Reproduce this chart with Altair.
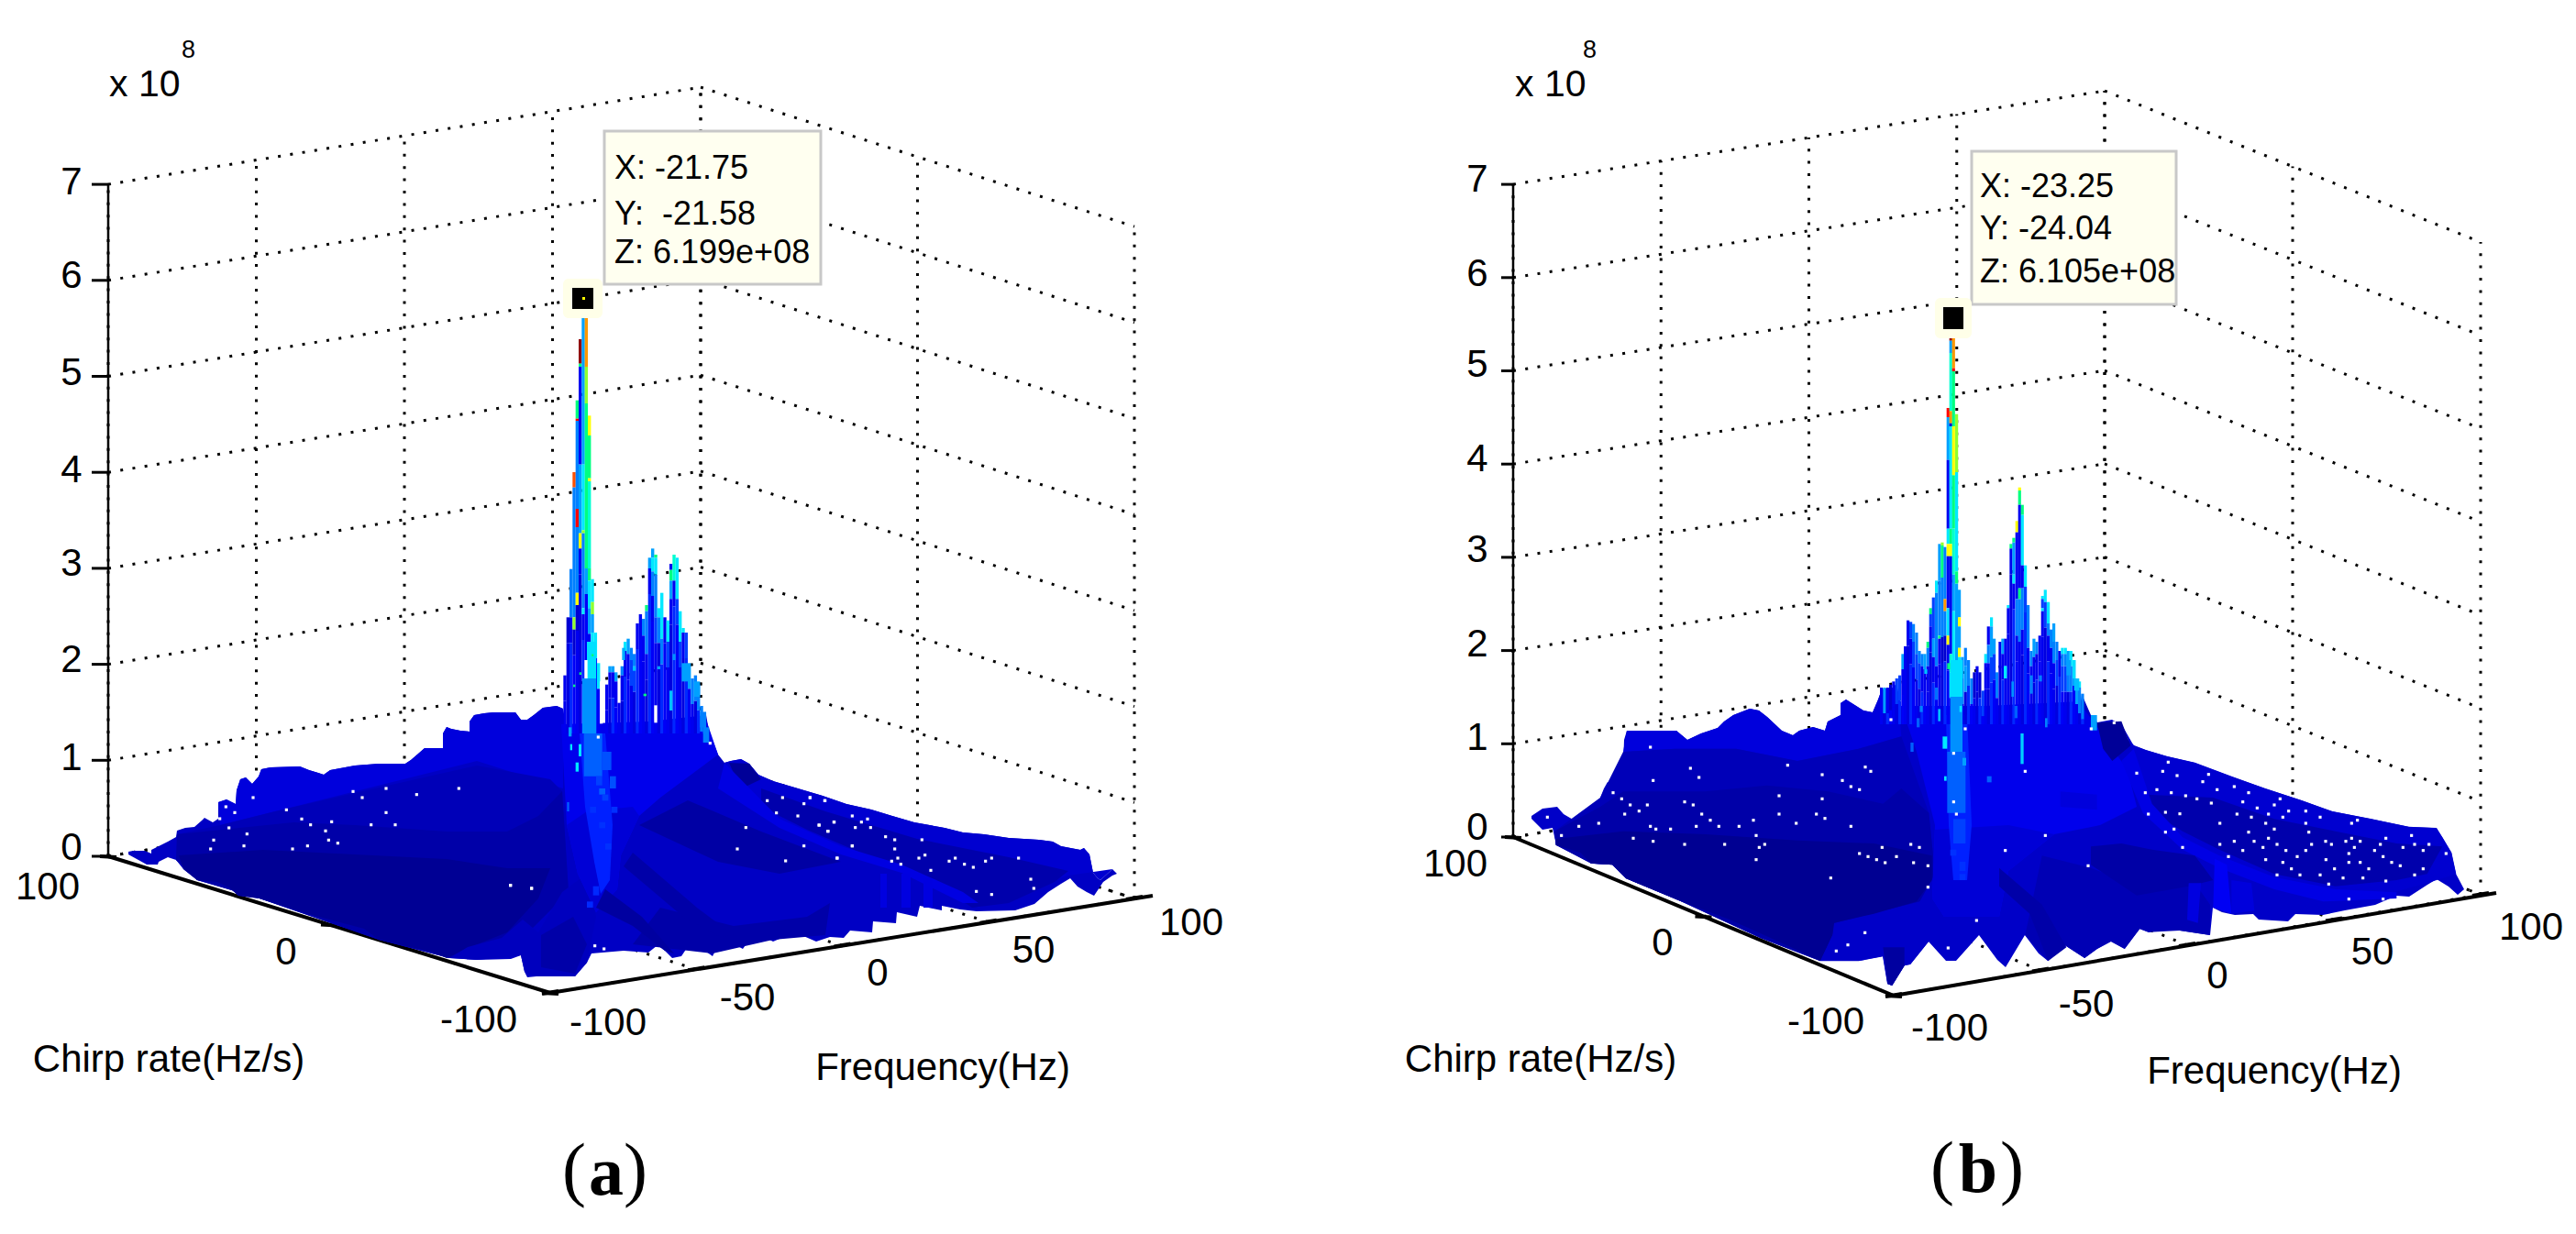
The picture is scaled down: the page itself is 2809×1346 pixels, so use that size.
import altair as alt
import pandas as pd

W, H = 2793, 1330
FONT = "Liberation Sans"
SERIF = "Liberation Serif"

# ---------- axis ticks ----------
FREQ_TICKS = [-100, -50, 0, 50, 100]
CHIRP_TICKS = [-100, 0, 100]
Z_TICKS = [0, 1, 2, 3, 4, 5, 6, 7]

# 3-D box: floor corners and height of the z axis
A_BOX = dict(left=(118, 934), front=(600, 1083), right=(1237, 980), back=(764, 828), unit=104.7, tick=18, axis_end=(1257, 977))
B_BOX = dict(left=(1650, 913), front=(2065, 1086), right=(2705, 976), back=(2295, 811), unit=101.7, tick=13, axis_end=(2722, 974))


def project(box, f, c, z=0.0):
    u = (f + 100) / 200
    v = (c + 100) / 200
    x = (1-u)*(1-v)*box["front"][0] + u*(1-v)*box["right"][0] + (1-u)*v*box["left"][0] + u*v*box["back"][0]
    y = (1-u)*(1-v)*box["front"][1] + u*(1-v)*box["right"][1] + (1-u)*v*box["left"][1] + u*v*box["back"][1]
    return x, y - z * box["unit"]


def seg(p, q):
    return dict(x=p[0], y=p[1], x2=q[0], y2=q[1])


def box_lines(box):
    dotted, solid = [], []
    for z in Z_TICKS:
        dotted.append(seg(project(box, -100, 100, z), project(box, 100, 100, z)))
        dotted.append(seg(project(box, 100, 100, z), project(box, 100, -100, z)))
    for f in FREQ_TICKS:
        dotted.append(seg(project(box, f, 100, 0), project(box, f, 100, 7)))
        dotted.append(seg(project(box, f, -100, 0), project(box, f, 100, 0)))
    for c in CHIRP_TICKS:
        dotted.append(seg(project(box, 100, c, 0), project(box, 100, c, 7)))
        dotted.append(seg(project(box, -100, c, 0), project(box, 100, c, 0)))
    solid.append(seg(box["left"], box["front"]))
    solid.append(seg(box["front"], box["axis_end"]))
    stubs = []
    for f in FREQ_TICKS:
        p = project(box, f, -100, 0)
        stubs.append(seg((p[0]-9, p[1]+1), (p[0]+9, p[1]-2)))
    for c in CHIRP_TICKS:
        p = project(box, -100, c, 0)
        stubs.append(seg((p[0]-9, p[1]), (p[0]+9, p[1]+1)))
    ticks = []
    for z in Z_TICKS:
        p = project(box, -100, 100, z)
        ticks.append(seg((p[0]-box["tick"], p[1]), p))
    zaxis = [seg(project(box, -100, 100, 0), project(box, -100, 100, 7))]
    return dotted, solid + stubs, ticks, zaxis


# ---------- surface outlines ----------
A_TOP = [(140,929),(145,928),(158,928),(165,931),(165,927),(175,922),(183,918),(192,913),(193,906),(202,903),(212,902),
         (220,895),(223,892),(232,897),(238,893),(238,875),(247,872),(257,877),(258,862),(262,850),(268,848),(275,855),
         (282,847),(285,839),(295,837),(327,836),(337,840),(347,843),(353,845),(360,840),(387,835),(413,833),(442,833),
         (448,829),(455,823),(463,816),(483,816),(483,800),(487,793),(492,795),(502,797),(512,798),(512,787),(517,780),
         (528,778),(538,777),(562,777),(568,785),(575,785),(582,780),(592,772),(607,770),(614,773),
         (617,790),(650,790),(662,795),(680,790),(770,780),
         (773,797),(783,823),(790,832),(797,830),(808,828),(817,833),(827,845),(843,852),(870,860),(897,868),(923,877),
         (950,883),(973,890),(997,897),(1030,903),(1050,908),(1073,910),(1100,914),(1133,916),(1148,918),(1157,923),
         (1178,927),(1182,925),(1188,932),(1192,952),(1197,958),(1200,960),(1213,948),(1218,953)]
A_BOTTOM = [(1213,955),(1203,962),(1193,977),(1185,973),(1175,967),(1167,958),(1157,964),(1143,973),(1128,986),(1107,993),
            (1065,994),(1047,992),(1027,988),(1027,993),(1003,988),(1000,1000),(978,995),(977,1007),(952,1005),(951,1017),
            (927,1015),(920,1023),(905,1022),(890,1027),(867,1017),(843,1027),(823,1017),(810,1035),(787,1023),(777,1043),
            (763,1033),(753,1028),(743,1043),(733,1045),(725,1037),(717,1031),(707,1039),(680,1037),(645,1040),(640,1050),
            (627,1065),(600,1062),(590,1056),(585,1065),(575,1066),(572,1060),(568,1042),(557,1046),(520,1047),(490,1045),
            (470,1038),(447,1033),(413,1025),(397,1013),(337,997),(283,980),(260,977),(250,968),(237,962),(215,960),(200,948),
            (192,938),(183,935),(173,940),(172,943),(160,943),(140,932)]

B_TOP = [(1670,890),(1682,882),(1698,880),(1705,888),(1717,895),(1738,897),(1743,893),(1745,870),(1749,860),(1753,853),
         (1767,860),(1767,837),(1770,837),(1771,807),(1774,797),(1828,797),(1840,807),(1855,800),(1873,794),(1880,787),
         (1890,780),(1908,773),(1918,775),(1927,782),(1943,797),(1955,802),(1962,797),(1977,793),(1990,797),(1993,787),
         (2007,780),(2007,767),(2013,763),(2032,775),(2042,777),(2048,763),(2052,752),(2065,750),(2068,745),
         (2073,770),(2140,775),(2165,770),(2269,765),
         (2270,757),(2280,780),(2287,788),(2303,785),(2312,790),(2317,803),(2327,813),(2340,818),(2363,825),(2393,832),
         (2433,847),(2470,860),(2510,873),(2543,885),(2585,893),(2627,902),(2657,903),(2663,913),(2673,930),(2678,953),
         (2687,970),(2680,976)]
B_BOTTOM = [(2670,967),(2657,959),(2647,965),(2627,978),(2613,977),(2590,987),(2557,993),(2533,998),(2503,997),(2495,1005),
            (2463,1003),(2457,997),(2437,998),(2423,995),(2413,990),(2410,1020),(2377,1015),(2357,1013),(2343,1017),(2333,1013),
            (2317,1035),(2302,1027),(2287,1035),(2273,1045),(2250,1030),(2233,1048),(2223,1040),(2208,1020),(2187,1055),
            (2178,1047),(2158,1020),(2133,1048),(2122,1048),(2103,1027),(2083,1052),(2077,1053),(2063,1075),(2058,1073),
            (2053,1043),(2027,1048),(1985,1048),(1977,1035),(1950,1032),(1920,1023),(1887,1003),(1830,982),(1773,958),
            (1758,943),(1735,942),(1723,930),(1697,922),(1693,903),(1682,905),(1670,893)]


def crop(ox, oy, pts):
    return [(ox + a / 3, oy + b / 3) for a, b in pts]


# shaded patches of the surface, back to front: (colour, outline)
A_PATCHES = [
    ("#0000C4", A_TOP + A_BOTTOM),
    ("#0000DC", A_TOP[15:53] + [(614,860),(520,830),(400,860),(300,885),(240,900)]),
    ("#0000B8", [(240,900),(300,885),(400,862),(520,835),(600,850),(613,863),(620,973),(553,1040),(490,1045),(413,1025),(283,980),(215,960),(192,938),(193,910)]),
    ("#0000A8", [(193,910),(320,897),(387,900),(487,907),(553,907),(587,890),(613,863),(620,973),(553,1040),(490,1045),(413,1025),(283,980),(215,960),(192,938)]),
    ("#000094", [(195,933),(287,927),(387,932),(487,937),(553,947),(600,947),(587,980),(553,1017),(513,1033),(487,1045),(470,1038),(447,1033),(413,1025),(397,1013),(337,997),(283,980),(260,977),(250,968),(237,962),(215,960),(200,948)]),
    ("#0000BE", [(510,1033),(547,1023),(570,1003),(587,1017),(613,973),(640,953),(650,1000),(640,1050),(627,1065),(585,1065),(572,1060),(568,1042),(520,1047),(490,1045)]),
    ("#0000EC", [(612,790),(770,785),(783,823),(720,870),(697,890),(677,933),(673,970),(650,995),(630,953),(618,900)]),
    ("#0000D6", [(618,900),(640,885),(690,880),(697,890),(677,933),(673,970),(650,995),(630,953)]),
    ("#0020FF", [(632,800),(660,800),(668,900),(665,960),(655,975),(648,940),(638,880)]),
    ("#0000D0", A_TOP[60:86] + [(1165,955),(1100,975),(1067,990),(1030,973),(983,947),(917,927),(850,897)]),
    ("#0000AC", [(830,860),(900,885),(1000,915),(1100,935),(1165,950),(1150,962),(1100,985),(1060,990),(1030,970),(950,935),(880,905),(830,880)]),
    ("#000098", [(795,832),(817,833),(830,850),(813,858),(803,850)]),
    ("#0000E2", [(790,832),(850,893),(917,923),(983,943),(1050,973),(1067,985),(1050,985),(983,952),(917,932),(850,903),(783,860)]),
    ("#0000A4", [(697,900),(783,940),(850,953),(917,940),(830,907),(750,873)]),
    ("#0000A8", [(690,1030),(720,990),(800,1010),(880,1000),(905,985),(900,1020),(843,1025),(777,1040)]),
    ("#0000E0", [(960,953),(967,953),(967,990),(960,990)]),
    ("#0000E0", [(983,953),(993,953),(993,990),(983,990)]),
    ("#0000E0", [(1007,958),(1017,958),(1017,990),(1007,990)]),
    ("#0000A0", [(660,970),(700,1000),(735,1040),(725,1037),(690,1010),(650,990)]),
    ("#0000A8", [(690,930),(760,990),(800,1020),(785,1022),(745,1000),(680,945)]),
    ("#0000A8", [(590,1020),(625,1000),(640,1030),(627,1062),(590,1055)]),
]

Z8 = lambda pts: crop(1660, 720, pts)
Z9 = lambda pts: crop(2180, 720, pts)
B_PATCHES = [
    ("#0000C8", B_TOP + B_BOTTOM),
    ("#0000DC", B_TOP[14:39] + Z8([(1240,250),(1100,290),(900,330),(700,290),(500,290),(330,300)])),
    ("#0000B8", Z8([(330,300),(500,290),(700,290),(900,330),(1100,290),(1240,250),(1330,500),(1350,700),(1300,790),(1020,860),(975,985),(780,910),(510,785),(340,715),(295,670),(225,665),(110,605),(105,560),(255,450)])),
    ("#0000A8", Z8([(105,560),(255,480),(330,430),(600,430),(800,410),(1000,430),(1180,470),(1240,420),(1330,500),(1350,700),(1300,790),(1020,860),(975,985),(780,910),(510,785),(340,715),(295,670),(225,665),(110,605)])),
    ("#000092", Z8([(110,585),(330,560),(600,570),(900,590),(1150,600),(1340,640),(1340,720),(1290,790),(1150,830),(1020,860),(1015,900),(975,985),(870,935),(680,850),(510,785),(340,715),(295,670),(225,665),(190,630),(110,605)])),
    ("#0000C8", Z8([(1015,900),(1030,860),(1130,860),(1160,830),(1230,830),(1250,860),(1300,790),(1345,780),(1400,800),(1400,985),(1330,920),(1270,995),(1250,1000),(1210,1065),(1195,1060),(1180,970),(1100,985),(975,985)])),
    ("#0000A0", Z8([(1180,940),(1250,940),(1250,1000),(1210,1065),(1195,1060)])),
    ("#0000EC", [(2073,770),(2270,770),(2287,793),(2320,840),(2330,880),(2290,900),(2240,910),(2190,950),(2180,1000),(2150,1000),(2120,1000),(2107,980),(2110,900),(2090,820)]),
    ("#0000D6", [(2110,905),(2190,900),(2240,910),(2190,950),(2180,1000),(2120,1000),(2107,980)]),
    ("#0020FF", [(2122,780),(2145,780),(2150,900),(2145,960),(2130,960),(2125,900)]),
    ("#0000D0", Z9([(400,210),(440,280),(480,295),(550,315),(640,335),(760,380),(870,420),(990,460),(1090,495),(1215,520),(1340,545),(1430,550),(1450,580),(1480,630),(1495,700),(1400,730),(1250,770),(1060,790),(900,730),(720,660),(600,600),(490,480),(440,300)])),
    ("#0000AC", Z9([(480,440),(700,450),(900,520),(1100,560),(1300,600),(1450,610),(1400,700),(1300,720),(1100,740),(900,700),(720,620),(600,560),(520,510)])),
    ("#0000E4", Z9([(440,290),(500,470),(600,580),(720,640),(900,710),(1100,750),(1300,760),(1300,780),(1060,790),(900,750),(720,680),(600,620),(470,500),(400,330)])),
    ("#000098", Z9([(320,205),(400,200),(430,280),(370,330),(340,290)])),
    ("#0000B4", Z9([(140,640),(300,680),(500,760),(640,730),(690,800),(690,900),(590,885),(490,890),(460,880),(410,945),(365,920),(320,945),(280,975),(210,930),(160,985),(85,900)])),
    ("#0000A6", Z9([(300,670),(450,770),(620,740),(700,720),(640,640),(500,620),(400,600),(300,610)])),
    ("#0000F4", Z9([(705,650),(745,670),(760,830),(700,810)])),
    ("#0000E0", Z9([(620,730),(660,730),(650,860),(615,850)])),
    ("#0000DC", Z9([(760,720),(825,730),(835,820),(760,830)])),
    ("#0000DC", Z9([(200,430),(320,440),(320,490),(200,480)])),
    ("#0000A8", Z9([(0,680),(140,800),(220,940),(160,985),(100,830),(0,740)])),
]

# ---------- spike columns: start x, then (top, colour) segments, crop coordinates ----------
PAL = dict(B="#0000F0", D="#0000D0", L="#0040FF", M="#0080FF", S="#00A0FF", C="#00E8FF", T="#00FFD0",
           G="#00FF80", V="#90FF30", Y="#FFFF00", O="#FF9800", N="#FF5000", R="#FF0000", K="#900000")
# deep blues that fill the lower part of the columns
COL_BASE = ["#0000F0", "#0000E0", "#0028FF", "#0000F8"]

A_COLS = [
    (343,[(1370,"B")]),(353,[(1180,"D")]),(363,[(1022,"M"),(1180,"B")]),
    (373,[(705,"N"),(755,"M"),(1180,"V"),(1220,"D")]),
    (383,[(470,"G"),(530,"R"),(537,"M"),(825,"R"),(885,"M"),(1100,"Y"),(1140,"D")]),
    (393,[(270,"K"),(350,"G"),(360,"B"),(680,"S"),(905,"Y"),(955,"B")]),
    (403,[(200,"S"),(680,"C"),(895,"V"),(905,"M"),(1150,"C"),(1170,"B")]),
    (413,[(200,"O"),(360,"V"),(480,"G"),(1020,"S")]),
    (423,[(520,"Y"),(585,"G"),(725,"Y"),(735,"T"),(1020,"G"),(1060,"C"),(1150,"S")]),
    (433,[(1055,"C"),(1130,"V"),(1170,"S"),(1230,"C")]),
    (443,[(1230,"C")]),(453,[(1330,"C")]),
    (480,[(1400,"B")]),(490,[(1340,"S"),(1360,"B")]),(500,[(1340,"S"),(1360,"B")]),(510,[(1360,"S"),(1390,"B")]),(520,[(1460,"B")]),
    (530,[(1340,"M"),(1370,"B")]),(540,[(1260,"C"),(1290,"B")]),(550,[(1250,"S"),(1300,"B")]),(560,[(1280,"M"),(1320,"L")]),(570,[(1300,"M"),(1340,"L")]),
    (580,[(1200,"B")]),(590,[(1170,"B")]),(600,[(1185,"M"),(1240,"B")]),(610,[(1140,"G"),(1160,"M"),(1300,"B")]),
    (620,[(985,"S"),(1020,"B")]),(630,[(955,"S"),(985,"C"),(1030,"M"),(1110,"B")]),(640,[(975,"G"),(985,"C"),(1040,"M"),(1180,"L")]),
    (650,[(1150,"C"),(1180,"M")]),(660,[(1100,"C"),(1250,"M")]),(670,[(1180,"B")]),(680,[(1190,"C"),(1260,"L")]),
    (690,[(1005,"B"),(1025,"G"),(1060,"S"),(1120,"B")]),(700,[(975,"T"),(1060,"B")]),(710,[(985,"C"),(1120,"L")]),
    (720,[(1160,"C"),(1260,"L")]),(730,[(1215,"C"),(1230,"B")]),(740,[(1230,"L")]),(750,[(1330,"S")]),(760,[(1380,"M")]),
    (770,[(1370,"M")]),(780,[(1400,"M")]),(790,[(1470,"M")]),(800,[(1490,"M")]),
]

B_COLS = [
    (0,[(1170,"B")]),(10,[(1170,"S")]),(20,[(1170,"B")]),(30,[(1160,"D")]),(40,[(1150,"B")]),(50,[(1140,"L")]),(60,[(1130,"L")]),
    (70,[(1060,"S"),(1110,"B")]),(78,[(1035,"B")]),(87,[(950,"B")]),(96,[(955,"L"),(1010,"B")]),(105,[(962,"M"),(1020,"L")]),(115,[(990,"M"),(1060,"L")]),
    (124,[(1050,"M"),(1090,"L")]),(133,[(1060,"M"),(1100,"B")]),(142,[(1060,"S"),(1110,"B")]),(152,[(1020,"G"),(1040,"M"),(1100,"B")]),
    (161,[(910,"G"),(930,"L"),(970,"B")]),(170,[(875,"L"),(1010,"S"),(1070,"B")]),(180,[(820,"C"),(860,"M"),(1100,"B")]),
    (190,[(700,"S"),(820,"M"),(1000,"G"),(1010,"B")]),(199,[(695,"V"),(705,"G"),(810,"M"),(1005,"D")]),
    (208,[(710,"M"),(880,"O"),(920,"M"),(1000,"D")]),
    (218,[(255,"R"),(285,"S"),(425,"B"),(650,"C"),(700,"Y"),(740,"B"),(910,"C"),(1000,"Y"),(1030,"B")]),
    (227,[(25,"K"),(35,"S"),(75,"T"),(265,"O"),(305,"D"),(315,"C"),(650,"G"),(700,"Y"),(740,"B"),(1060,"T"),(1120,"C")]),
    (236,[(25,"O"),(125,"R"),(135,"G"),(315,"Y"),(475,"G"),(650,"T"),(800,"S"),(920,"C"),(1120,"S")]),
    (246,[(275,"V"),(465,"C"),(790,"G"),(830,"S"),(1100,"C")]),
    (255,[(850,"S"),(940,"Y"),(970,"S"),(1040,"Y"),(1070,"C"),(1140,"S")]),
    (265,[(1070,"S"),(1140,"M")]),(275,[(1040,"M"),(1100,"S")]),(285,[(1080,"M")]),(295,[(1140,"M")]),
    (304,[(1120,"D")]),(313,[(1100,"B")]),(322,[(1120,"D")]),(332,[(1180,"L")]),
    (341,[(1060,"C"),(1090,"B")]),(350,[(970,"B"),(1030,"M"),(1090,"B")]),(360,[(940,"C"),(970,"S"),(1070,"L")]),(369,[(1010,"S"),(1060,"L")]),
    (378,[(1120,"M")]),(388,[(1020,"B")]),(397,[(1010,"S"),(1060,"B")]),(406,[(1010,"B"),(1100,"C"),(1140,"B")]),
    (415,[(900,"C"),(910,"B")]),(424,[(700,"G"),(715,"B")]),(433,[(680,"G"),(695,"S"),(800,"C"),(830,"B")]),
    (443,[(625,"Y"),(662,"B"),(880,"M"),(1000,"B")]),(452,[(515,"Y"),(525,"G"),(572,"B"),(845,"G"),(880,"M"),(1020,"B")]),
    (461,[(572,"G"),(605,"C"),(770,"B"),(845,"M"),(980,"B")]),(471,[(770,"C"),(840,"L")]),(480,[(900,"M"),(1040,"B")]),
    (490,[(1050,"M"),(1100,"B")]),(499,[(1010,"S"),(1070,"B")]),(508,[(1020,"M"),(1060,"B")]),(518,[(1000,"B")]),
    (527,[(870,"C"),(880,"L"),(910,"C"),(920,"B")]),(536,[(850,"C"),(890,"L")]),(546,[(890,"C"),(960,"M"),(1000,"B")]),
    (555,[(980,"M"),(1040,"B")]),(564,[(960,"S"),(1020,"M"),(1090,"B")]),(574,[(1020,"M"),(1080,"L")]),(583,[(1050,"B")]),(592,[(1040,"C"),(1060,"M"),(1100,"L")]),
    (602,[(1040,"C"),(1060,"M"),(1100,"L")]),(611,[(1050,"S"),(1100,"M")]),(620,[(1050,"C"),(1100,"M")]),(630,[(1080,"S")]),
    (639,[(1140,"S")]),(648,[(1150,"C"),(1170,"M")]),(658,[(1190,"M")]),
]

# light streaks in the trunk: crop x0, x1, y0, y1, colour
A_STREAKS = [(270,300,0,120,"#00E0FF"),(255,300,120,300,"#0090FF"),(260,320,300,440,"#0060FF"),(210,220,280,310,"#00A0FF"),
             (215,222,335,355,"#00E8FF"),(243,252,335,375,"#00E8FF"),(233,243,395,425,"#00E8FF"),(205,212,525,555,"#0060FF"),
             (385,395,20,60,"#00B0FF"),(420,430,80,95,"#00C0FF"),(540,550,160,225,"#00C0FF"),(500,510,80,90,"#00A0FF"),
             (580,600,70,130,"#00A0FF"),(620,640,130,180,"#00A0FF"),(640,660,230,280,"#0080FF"),(650,670,280,330,"#0080FF"),
             (550,560,40,60,"#0090FF"),(455,465,170,178,"#00FF80"),(225,232,140,148,"#00FF80"),(245,252,100,108,"#00FF80"),
             (285,292,40,48,"#00FF80"),(310,330,480,500,"#0060FF"),(320,350,360,420,"#0050FF"),(345,365,440,480,"#0050FF"),
             (300,320,440,470,"#0040FF"),(320,340,500,520,"#0040FF"),(280,300,540,560,"#0030FF"),(350,370,540,560,"#0030FF"),
             (310,330,590,610,"#0030FF"),(330,350,660,680,"#0030FF"),(290,310,800,830,"#0028FF"),(270,290,850,870,"#0028FF"),
             (490,500,208,265,"#FFFFFF"),(262,272,60,120,"#FFFFFF"),(312,322,130,268,"#FFFFFF")]
B_STREAKS = [(1390,1400,10,30,"#00FF80"),(1400,1440,0,120,"#00E0FF"),(1400,1440,120,300,"#0090FF"),(1390,1450,300,500,"#0060FF"),
             (1375,1390,250,290,"#00E8FF"),(1360,1368,160,200,"#00C0FF"),(1300,1310,150,170,"#0080FF"),(1270,1280,270,300,"#0060FF"),
             (1315,1325,30,45,"#00C0FF"),(1430,1438,150,170,"#00E8FF"),(1380,1388,380,395,"#00E8FF"),(1350,1360,90,130,"#0070FF"),
             (1290,1300,190,220,"#0060FF"),(1440,1452,320,345,"#00A0FF"),(1410,1450,520,600,"#0040FF"),(1520,1535,380,400,"#0060FF"),
             (1430,1450,660,690,"#0030FF"),(1400,1420,620,640,"#0030FF"),(1430,1450,700,720,"#0030FF")]
B_STREAKS2 = [(15,25,20,60,"#00E8FF"),(70,80,240,340,"#00D0FF"),(40,48,70,120,"#0090FF"),(100,110,50,110,"#0080FF"),
              (150,158,190,220,"#0080FF"),(245,262,60,100,"#00C0FF"),(220,235,0,50,"#00A0FF"),(240,250,0,60,"#00E0FF"),
              (300,320,180,230,"#00A0FF"),(130,140,50,70,"#0080FF"),(50,60,150,190,"#0060FF")]

# white specks, crop coordinates
A_SPECK_10 = [(468,390),(379,420),(408,439),(359,459),(389,489),(448,509),(339,529),(438,548),(329,558),(577,430),(627,460),(656,479),(725,469),(705,499),(715,529),(745,539),(597,558),(646,548),(795,370),(825,390),(903,360),(1003,380),(1141,360),(903,439),(854,479),(933,479),(1310,677),(1379,687)]
A_SPECK_6 = [(307,312),(673,332),(860,520),(910,510),(1000,510),(1048,520),(980,530),(890,560),(960,570),(1030,600),(1078,590),(1058,620),(790,608),(762,678),(980,668),(1138,668),(920,717),(1088,708),(20,797),(89,807),(296,995),(326,1005)]
A_SPECK_11 = [(10,90),(59,100),(148,150),(198,160),(178,170),(208,188),(158,188),(39,180),(89,170),(69,200),(148,248),(99,288),(257,218),(287,228),(376,228),(287,258),(386,278),(366,288),(297,288),(277,298),(307,308),(405,328),(465,298),(485,288),(515,308),(544,318),(584,298),(604,288),(692,288),(732,357),(742,387),(554,397),(604,407)]
B_SPECK_8 = [(419,285),(550,354),(578,384),(428,394),(297,434),(325,454),(353,474),(409,474),(382,494),(335,504),(531,464),(559,474),(587,504),(615,524),(643,544),(569,544),(485,553),(437,553),(419,544),(82,514),(185,544),(250,534),(128,574),(363,583),(428,593),(531,603),(662,603),(765,574),(793,603),(775,613),(765,653),(709,544),(756,524),(840,504),(896,534),(962,504),(990,518),(1075,544),(840,444),(868,344),(981,375),(981,454),(1047,394),(1075,414),(1103,424),(1122,350),(1140,364),(1206,195),(1449,225),(1411,305),(1411,464),(1420,504),(1177,613),(1271,603),(1299,613),(1103,633),(1131,643),(1159,653),(1187,663),(1224,643),(1280,663),(1327,673),(1009,713),(1327,743),(1121,892),(1065,932),(1027,952),(1393,942),(1486,852)]
B_SPECK_9 = [(85,364),(301,225),(376,205),(553,334),(450,370),(535,364),(582,378),(685,374),(666,398),(769,414),(713,424),(816,434),(478,434),(516,424),(563,434),(610,444),(647,454),(694,468),(797,464),(844,484),(900,474),(919,454),(947,494),(1003,494),(881,504),(928,514),(825,514),(778,504),(488,504),(544,498),(591,503),(1050,514),(1153,534),(1172,524),(722,534),(1003,534),(872,534),(900,553),(816,563),(1013,563),(1265,583),(1349,574),(544,563),(572,553),(881,583),(834,593),(769,593),(722,603),(600,613),(909,603),(863,613),(1022,603),(1068,593),(1087,603),(1134,593),(1153,583),(1181,593),(1162,613),(1247,603),(1321,613),(1359,603),(1406,603),(1003,623),(938,623),(797,623),(1228,623),(1387,623),(1462,633),(975,643),(750,643),(1144,633),(1256,643),(872,653),(1069,653),(1144,662),(1181,662),(1284,662),(928,662),(1312,673),(956,683),(1097,683),(1209,683),(1387,683),(909,703),(984,703),(1050,703),(1359,703),(1125,713),(1190,713),(1265,723),(1078,733),(1144,782),(1256,782),(291,673),(151,574),(20,623)]

# ---------- text ----------
A_LABELS = [("7",78,199),("6",78,301),("5",78,407),("4",78,513),("3",78,615),("2",78,720),("1",78,827),("0",78,925),
            ("100",52,968),("0",312,1039),("-100",522,1113),("-100",663,1116),("-50",815,1089),("0",957,1062),("50",1127,1037),("100",1299,1007),
            ("Chirp rate(Hz/s)",184,1156),("Frequency(Hz)",1028,1165)]
B_LABELS = [("7",1611,196),("6",1611,299),("5",1611,398),("4",1611,501),("3",1611,600),("2",1611,703),("1",1611,805),("0",1611,903),
            ("100",1587,943),("0",1813,1029),("-100",1991,1115),("-100",2126,1122),("-50",2275,1096),("0",2418,1065),("50",2587,1039),("100",2760,1012),
            ("Chirp rate(Hz/s)",1680,1156),("Frequency(Hz)",2480,1169)]
SCALE_LABELS = [("x 10",119,105),("x 10",1652,105)]
EXPONENTS = [("8",198,63),("8",1726,63)]
TIP_TEXT = [("X: -21.75",670,195),("Y: \u00a0-21.58",670,245),("Z: 6.199e+08",670,287),
            ("X: -23.25",2159,215),("Y: -24.04",2159,261),("Z: 6.105e+08",2159,308)]
TIP_BOXES = [(659,895,143,310),(2150,2373,165,332)]
HALOS = [(614,657,304,347),(2110,2150,325,369)]
MARKERS = [(624,647,314,337),(2119,2141,335,359)]
MARK_DOT = [(635,638,324,327)]
CAPTION_PAREN = [("(",626,1278),(")",693,1278),("(",2118,1276),(")",2194,1276)]
CAPTION_LETTER = [("a",661,1280),("b",2157,1277)]

# ---------- tables ----------
sx = alt.Scale(domain=[8, 8 + W], nice=False, zero=False)
sy = alt.Scale(domain=[8 + H, 8], nice=False, zero=False)
X = alt.X("x:Q", scale=sx, axis=None)
Y = alt.Y("y:Q", scale=sy, axis=None)
X2 = alt.X2("x2:Q")
Y2 = alt.Y2("y2:Q")


def rules(rows, **kw):
    return alt.Chart(pd.DataFrame(rows)).mark_rule(color="black", **kw).encode(x=X, x2=X2, y=Y, y2=Y2)


def rects(rows, **kw):
    df = pd.DataFrame(rows, columns=["x", "x2", "y", "y2"] if len(rows[0]) == 4 else ["x", "x2", "y", "y2", "c"])
    if "c" in df:
        return alt.Chart(df).mark_rect(strokeWidth=0, **kw).encode(x=X, x2=X2, y=Y, y2=Y2, fill=alt.Fill("c:N", scale=None))
    return alt.Chart(df).mark_rect(**kw).encode(x=X, x2=X2, y=Y, y2=Y2)


def texts(rows, **kw):
    df = pd.DataFrame(rows, columns=["t", "x", "y"])
    return alt.Chart(df).mark_text(**kw).encode(x=X, y=Y, text="t:N")


def polygons(patches):
    feats = []
    for col, pts in patches:
        ring = [list(p) for p in pts] + [list(pts[0])]
        feats.append({"type": "Feature", "color": col, "properties": {},
                      "geometry": {"type": "Polygon", "coordinates": [ring]}})
    return (alt.Chart(alt.Data(values=feats)).mark_geoshape(strokeWidth=0, stroke=None)
            .encode(fill=alt.Fill("color:N", scale=None))
            .project(type="identity", scale=1, translate=[-8, -8]))


def column_rows(cols, ox, oy, width, bottom):
    rows = []
    for n, (x0, segs) in enumerate(cols):
        for i, (top, key) in enumerate(segs):
            y0 = oy + top / 3
            if i + 1 < len(segs):
                end = oy + segs[i + 1][0] / 3
            else:
                end = min(bottom, y0 + 28)
            rows.append((ox + x0 / 3, ox + x0 / 3 + width, y0, end, PAL[key]))
        if end < bottom:
            rows.append((ox + x0 / 3, ox + x0 / 3 + width, end, bottom, COL_BASE[n % len(COL_BASE)]))
    return rows


def streak_rows(items, ox, oy):
    return [(ox + a / 3, ox + b / 3, oy + c / 3, oy + d / 3, col) for a, b, c, d, col in items]


a_d, a_s, a_t, a_z = box_lines(A_BOX)
b_d, b_s, b_t, b_z = box_lines(B_BOX)

specks = crop(120,740,A_SPECK_10) + crop(550,700,A_SPECK_6) + crop(880,840,A_SPECK_11) + crop(1660,720,B_SPECK_8) + crop(2180,720,B_SPECK_9)
speck_df = pd.DataFrame(specks, columns=["x", "y"])

col_rows = column_rows(A_COLS, 500, 280, 3.4, 800) + column_rows(B_COLS, 2050, 360, 3.2, 790)
streaks = streak_rows(A_STREAKS, 550, 700) + streak_rows(B_STREAKS, 1660, 720) + streak_rows(B_STREAKS2, 2180, 720)

TXT = dict(font=FONT, color="black", baseline="middle", align="center")
layers = [
    rules(a_d + b_d, strokeWidth=3, strokeDash=[3, 10.4]),
    rules(a_z + b_z, strokeWidth=2.5),
    rules(a_t + b_t, strokeWidth=3),
    rules(a_s + b_s, strokeWidth=4),
    polygons(A_PATCHES + B_PATCHES),
    rects(col_rows),
    rects(streaks),
    alt.Chart(speck_df).mark_square(size=10, color="white", opacity=1).encode(x=X, y=Y),
    rects(TIP_BOXES, fill="#FFFFF0", stroke="#C8C8C8", strokeWidth=3),
    rects(HALOS, fill="#FFFFE8", cornerRadius=6),
    rects(MARKERS, fill="black"),
    rects(MARK_DOT, fill="#FFFF00"),
    texts(A_LABELS + B_LABELS, fontSize=42, **TXT),
    texts(SCALE_LABELS, font=FONT, color="black", fontSize=41, align="left", baseline="alphabetic"),
    texts(EXPONENTS, font=FONT, color="black", fontSize=27, align="left", baseline="alphabetic"),
    texts(TIP_TEXT, font=FONT, color="black", fontSize=36, align="left", baseline="alphabetic"),
    texts(CAPTION_PAREN, font=SERIF, color="black", fontSize=78, align="center", baseline="middle"),
    texts(CAPTION_LETTER, font=SERIF, color="black", fontSize=76, fontWeight="bold", align="center", baseline="middle"),
]

chart = alt.layer(*layers).properties(
    width=W, height=H, padding=0, background="white",
    autosize=alt.AutoSizeParams(type="none"),
).configure_view(stroke=None)

chart.save("out.html", embed_options={"renderer": "svg", "actions": False})
